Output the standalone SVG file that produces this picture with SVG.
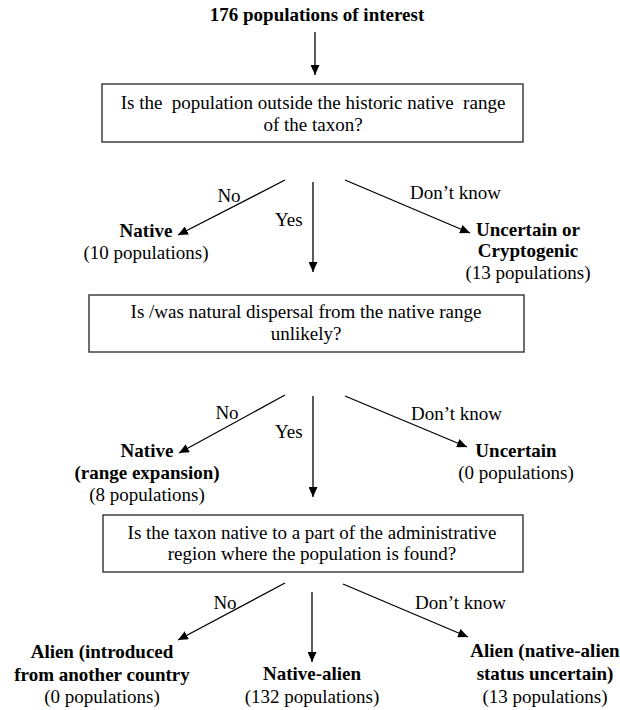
<svg xmlns="http://www.w3.org/2000/svg" width="620" height="710" viewBox="0 0 620 710">
<defs>
<marker id="ah" markerUnits="userSpaceOnUse" markerWidth="10" markerHeight="9" refX="10" refY="4.5" orient="auto">
<path d="M0,0 L10,4.5 L0,9 Z" fill="#000"/>
</marker>
<style>
text{font-family:"Liberation Serif","Times New Roman",serif;font-size:19px;fill:#000}
.b{font-weight:bold}
.m{text-anchor:middle}
.box{fill:#fff;stroke:#333;stroke-width:1.4}
.c line{stroke:#000;stroke-width:1.3;marker-end:url(#ah)}
</style>
</defs>
<rect width="620" height="710" fill="#fff"/>
<g id="start"><text class="b m" x="317" y="21">176 populations of interest</text></g>
<g id="q1">
<rect class="box" x="102" y="84" width="421" height="58"/>
<text class="m" x="313" y="109" xml:space="preserve">Is the  population outside the historic native  range</text>
<text class="m" x="313" y="131">of the taxon?</text>
</g>
<g id="native1"><text class="b m" x="146" y="237">Native</text><text class="m" x="146" y="259">(10 populations)</text></g>
<g id="uncertain1"><text class="b m" x="528" y="236">Uncertain or</text><text class="b m" x="528" y="257">Cryptogenic</text><text class="m" x="528" y="279">(13 populations)</text></g>
<g id="q2">
<rect class="box" x="89" y="295" width="435" height="57"/>
<text class="m" x="306" y="318">Is /was natural dispersal from the native range</text>
<text class="m" x="306" y="340">unlikely?</text>
</g>
<g id="native2"><text class="b m" x="147" y="457">Native</text><text class="b m" x="147" y="479">(range expansion)</text><text class="m" x="147" y="501">(8 populations)</text></g>
<g id="uncertain2"><text class="b m" x="516" y="457">Uncertain</text><text class="m" x="516" y="479">(0 populations)</text></g>
<g id="q3">
<rect class="box" x="103" y="515" width="420" height="57"/>
<text class="m" x="312" y="539">Is the taxon native to a part of the administrative</text>
<text class="m" x="312" y="560">region where the population is found?</text>
</g>
<g id="alien1"><text class="b m" x="102" y="658">Alien (introduced</text><text class="b m" x="102" y="681">from another country</text><text class="m" x="102" y="703">(0 populations)</text></g>
<g id="nativealien"><text class="b m" x="312" y="680">Native-alien</text><text class="m" x="312" y="703">(132 populations)</text></g>
<g id="alien2"><text class="b m" x="545" y="657">Alien (native-alien</text><text class="b m" x="545" y="680">status uncertain)</text><text class="m" x="545" y="703">(13 populations)</text></g>
<g id="connectors" class="c">
<line x1="315" y1="32" x2="315" y2="75"/>
<line x1="285" y1="180" x2="178" y2="235"/>
<line x1="313" y1="182" x2="313" y2="272"/>
<line x1="345" y1="180" x2="470" y2="233"/>
<line x1="285" y1="395" x2="179" y2="453"/>
<line x1="313" y1="396" x2="313" y2="497"/>
<line x1="345" y1="396" x2="467" y2="447"/>
<line x1="285" y1="583" x2="178" y2="640"/>
<line x1="312" y1="592" x2="312" y2="662"/>
<line x1="343" y1="584" x2="468" y2="637"/>
</g>
<g id="labels">
<text class="m" x="229" y="202">No</text>
<text x="275" y="226">Yes</text>
<text x="410" y="199">Don’t know</text>
<text class="m" x="227" y="419">No</text>
<text x="275" y="438">Yes</text>
<text x="411" y="420">Don’t know</text>
<text class="m" x="225" y="609">No</text>
<text x="415" y="609">Don’t know</text>
</g>
</svg>
